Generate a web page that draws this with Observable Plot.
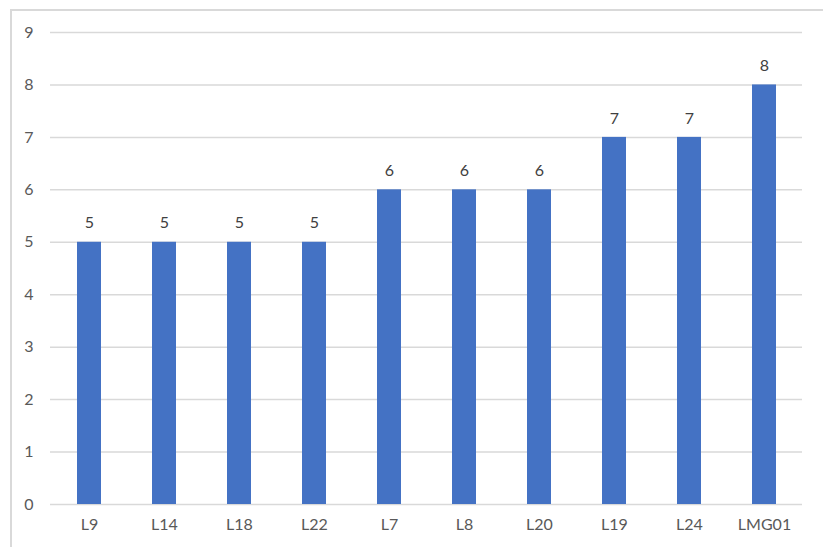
<!DOCTYPE html>
<html>
<head>
<meta charset="utf-8">
<script src="https://cdn.jsdelivr.net/npm/d3@7"></script>
<script src="https://cdn.jsdelivr.net/npm/@observablehq/plot@0.6"></script>
<style>
  html, body { margin: 0; padding: 0; background: #fff; overflow: hidden; }
  #wrap { position: relative; width: 823px; height: 547px; overflow: hidden; }
  #frame { position: absolute; left: 10px; top: 9px; width: 900px; height: 700px; border: 2px solid #d9d9d9; box-sizing: border-box; pointer-events: none; }
  #chart { position: absolute; left: 0; top: 0; }
</style>
</head>
<body>
<div id="wrap"><div id="frame"></div><div id="chart"></div></div>
<script>
const categories = ["L9", "L14", "L18", "L22", "L7", "L8", "L20", "L19", "L24", "LMG01"];
const values = [5, 5, 5, 5, 6, 6, 6, 7, 7, 8];
const yTicks = [0, 1, 2, 3, 4, 5, 6, 7, 8, 9];

const data = categories.map((c, i) => ({category: c, value: values[i]}));

const chart = Plot.plot({
  width: 823,
  height: 547,
  marginLeft: 50,
  marginRight: 21,
  marginTop: 32,
  marginBottom: 43,
  style: {fontFamily: "Lato, 'Open Sans', sans-serif", fontSize: "16px", color: "#595959", background: "transparent"},
  x: {domain: categories, paddingInner: 0.68, paddingOuter: 0.34, align: 0.5, label: null},
  y: {domain: [0, 9], label: null},
  marks: [
    Plot.gridY(yTicks, {stroke: "#d9d9d9", strokeOpacity: 1, strokeWidth: 1.5}),
    Plot.barY(data, {x: "category", y: "value", fill: "#4472c4"}),
    Plot.text(data, {x: "category", y: "value", text: d => String(d.value), dy: -19, fill: "#404040", fontSize: 16}),
    Plot.axisX({tickSize: 0, tickPadding: 14, fill: "#595959", fontSize: 16}),
    Plot.axisY(yTicks, {tickSize: 0, tickPadding: 17, tickFormat: d => String(d), fill: "#595959", fontSize: 16})
  ]
});
document.getElementById("chart").appendChild(chart);
</script>
</body>
</html>
